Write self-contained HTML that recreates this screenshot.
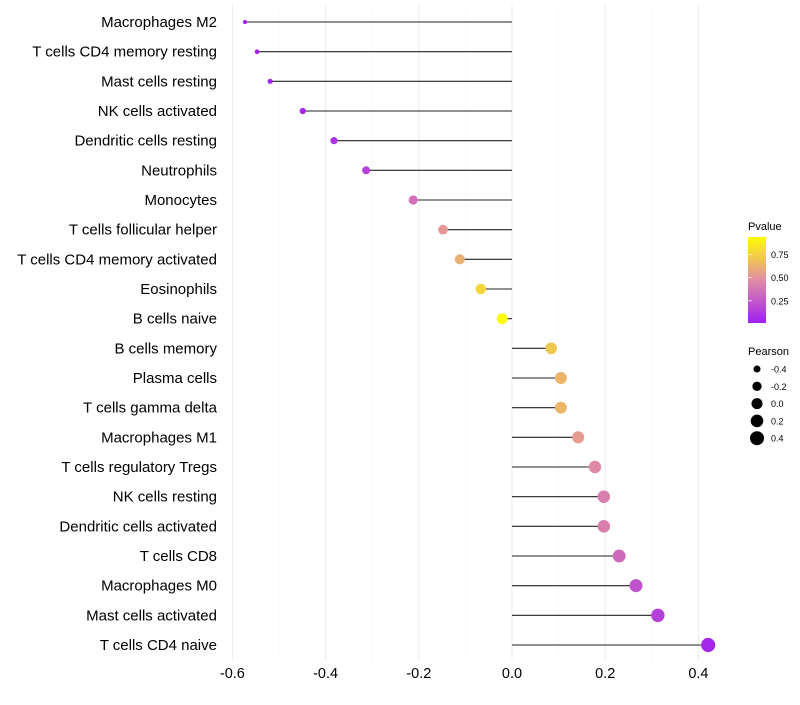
<!DOCTYPE html>
<html><head><meta charset="utf-8"><style>
body{margin:0;background:#fff;font-family:"Liberation Sans",sans-serif}
</style></head><body>
<svg id="chart" width="800" height="700" xmlns="http://www.w3.org/2000/svg" font-family="Liberation Sans, sans-serif"></svg>
<script>
const categories=["Macrophages M2","T cells CD4 memory resting","Mast cells resting","NK cells activated","Dendritic cells resting","Neutrophils","Monocytes","T cells follicular helper","T cells CD4 memory activated","Eosinophils","B cells naive","B cells memory","Plasma cells","T cells gamma delta","Macrophages M1","T cells regulatory  Tregs ","NK cells resting","Dendritic cells activated","T cells CD8","Macrophages M0","Mast cells activated","T cells CD4 naive"];
const pearson=[-0.573,-0.547,-0.519,-0.449,-0.382,-0.313,-0.212,-0.148,-0.112,-0.067,-0.021,0.084,0.105,0.105,0.142,0.178,0.197,0.197,0.230,0.266,0.313,0.421];
const pvalue=[0.01,0.02,0.03,0.05,0.10,0.17,0.36,0.52,0.62,0.77,0.93,0.72,0.64,0.64,0.54,0.46,0.42,0.42,0.33,0.24,0.15,0.04];
const xTicks=[-0.6,-0.4,-0.2,0.0,0.2,0.4];
const xTickLabels=["-0.6","-0.4","-0.2","0.0","0.2","0.4"];
const pTicks=[0.25,0.5,0.75];
const sizeLegend=[-0.4,-0.2,0.0,0.2,0.4];

const svg=document.getElementById('chart');
const NS="http://www.w3.org/2000/svg";
function mk(t,a,p){const e=document.createElementNS(NS,t);for(const k in a)e.setAttribute(k,a[k]);(p||svg).appendChild(e);return e;}
const xs=v=>512+v*466;
const ys=i=>22+i*(623/21);
const rs=v=>Math.sqrt(Math.max(1,30.6+45.9*v));
const stops=[[0,[160,32,240]],[0.5,[225,140,165]],[1,[255,255,0]]];
function col(p){const t=Math.min(1,Math.max(0,(p-0.01)/0.93));let a=stops[0],b=stops[1];if(t>0.5){a=stops[1];b=stops[2];}
const f=(t-a[0])/(b[0]-a[0]);const c=a[1].map((x,i)=>Math.round(x+(b[1][i]-x)*f));return `rgb(${c})`;}

xTicks.forEach((v,i)=>{
 const g=mk('line',{x1:xs(v),x2:xs(v),y1:5,y2:660,stroke:'#ebebeb','stroke-width':1});
 
 
 if(i<xTicks.length-1){const m=mk('line',{x1:xs(v+0.1),x2:xs(v+0.1),y1:5,y2:660,stroke:'#f3f3f3','stroke-width':0.6});
 
 }
 const t=mk('text',{x:xs(v),y:678,'text-anchor':'middle','font-size':14.5,fill:'#000'});t.textContent=xTickLabels[i];
 
 
});
categories.forEach((c,i)=>{
 const y=ys(i);
 const t=mk('text',{x:217,y:y+5,'text-anchor':'end','font-size':15,fill:'#000'});t.textContent=c;
 
 
 const l=mk('line',{x1:xs(0),x2:xs(pearson[i]),y1:y,y2:y,stroke:'#222','stroke-width':1.1});
 
 
 const d=mk('circle',{cx:xs(pearson[i]),cy:y,r:rs(pearson[i]),fill:col(pvalue[i])});
 
 
});
const t1=mk('text',{x:748,y:230,'font-size':11});t1.textContent='Pvalue';


const defs=mk('defs',{});const lg=mk('linearGradient',{id:'pg',x1:0,y1:1,x2:0,y2:0},defs);
[0,0.25,0.5,0.75,1].forEach(f=>mk('stop',{offset:f,'stop-color':col(0.01+f*0.93)},lg));
const cb=mk('rect',{x:748,y:237,width:18,height:86,fill:'url(#pg)'});


pTicks.forEach(p=>{const y=323-(p-0.01)/0.93*86;
 const tk=mk('line',{x1:748,x2:752,y1:y,y2:y,stroke:'#fff','stroke-width':0.7});
 
 
 const t=mk('text',{x:771,y:y+3.5,'font-size':9});t.textContent=p.toFixed(2);
 
 });
const t2=mk('text',{x:748,y:355,'font-size':11});t2.textContent='Pearson';


sizeLegend.forEach((v,i)=>{const y=369+i*17.3;
 const c=mk('circle',{cx:757,cy:y,r:rs(v),fill:'#000'});
 
 
 const t=mk('text',{x:771,y:y+3.5,'font-size':9});t.textContent=v.toFixed(1);
 
 });
</script>
</body></html>
